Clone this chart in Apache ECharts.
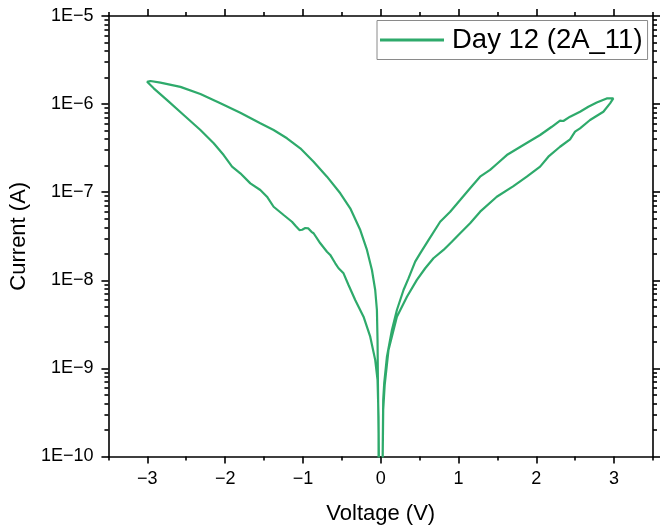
<!DOCTYPE html>
<html><head><meta charset="utf-8">
<script src="https://cdn.jsdelivr.net/npm/echarts@6/dist/echarts.min.js"></script>
<style>html,body{margin:0;padding:0;background:#fff}#c{width:670px;height:531px}</style>
</head><body><div id="c"></div>
<script>
// Positive sweep, rising branch (V, A)
const posUpV = [0.013, 0.032, 0.045, 0.080, 0.144, 0.208, 0.293, 0.357, 0.443, 0.507, 0.614, 0.764, 0.893, 1.021, 1.149, 1.277, 1.406, 1.492, 1.621, 1.834, 2.049, 2.199, 2.305, 2.348, 2.434, 2.562, 2.669, 2.777, 2.905, 2.990, 3.010];
const posUpI = [1e-11, 4.4e-10, 6.8e-10, 1.36e-9, 2.73e-9, 4.6e-9, 7.76e-9, 1.05e-8, 1.63e-8, 2.02e-8, 2.86e-8, 4.62e-8, 6.0e-8, 8.15e-8, 1.11e-7, 1.50e-7, 1.79e-7, 2.09e-7, 2.64e-7, 3.43e-7, 4.46e-7, 5.53e-7, 6.48e-7, 6.43e-7, 7.2e-7, 8.2e-7, 9.34e-7, 1.04e-6, 1.16e-6, 1.16e-6, 1.11e-6];
// Positive sweep, returning branch
const posDownV = [2.990, 2.948, 2.862, 2.691, 2.562, 2.498, 2.434, 2.305, 2.155, 2.049, 1.878, 1.706, 1.492, 1.278, 1.149, 1.021, 0.914, 0.807, 0.678, 0.572, 0.465, 0.337, 0.208, 0.100, 0.051, 0.032, 0.013];
const posDownI = [1.11e-6, 1.02e-6, 8.2e-7, 6.6e-7, 5.31e-7, 4.86e-7, 3.98e-7, 3.28e-7, 2.53e-7, 1.95e-7, 1.50e-7, 1.17e-7, 8.88e-8, 6.01e-8, 4.44e-8, 3.42e-8, 2.74e-8, 2.21e-8, 1.78e-8, 1.37e-8, 1.01e-8, 6.5e-9, 3.86e-9, 1.62e-9, 6.5e-10, 3.4e-10, 1e-11];
// Negative sweep, outgoing branch (lower)
const negOutV = [-0.015, -0.028, -0.041, -0.071, -0.135, -0.221, -0.328, -0.414, -0.478, -0.542, -0.584, -0.649, -0.691, -0.777, -0.863, -0.890, -0.930, -0.970, -1.010, -1.045, -1.090, -1.141, -1.248, -1.377, -1.462, -1.548, -1.676, -1.805, -1.911, -2.019, -2.147, -2.318, -2.533, -2.746, -2.918, -3.003];
const negOutI = [1e-11, 2.83e-10, 7.4e-10, 1.25e-9, 2.29e-9, 3.86e-9, 5.97e-9, 8.85e-9, 1.20e-8, 1.37e-8, 1.56e-8, 1.94e-8, 2.11e-8, 2.63e-8, 3.42e-8, 3.55e-8, 3.88e-8, 3.92e-8, 3.75e-8, 3.72e-8, 4.1e-8, 4.62e-8, 5.51e-8, 6.84e-8, 8.89e-8, 1.06e-7, 1.26e-7, 1.64e-7, 1.95e-7, 2.64e-7, 3.59e-7, 5.08e-7, 7.52e-7, 1.11e-6, 1.51e-6, 1.79e-6];
// Negative sweep, returning branch (upper)
const negBackV = [-2.960, -2.832, -2.575, -2.318, -2.061, -1.805, -1.548, -1.377, -1.205, -1.034, -0.863, -0.691, -0.520, -0.392, -0.263, -0.177, -0.113, -0.071, -0.049, -0.041, -0.036, -0.028, -0.026];
const negBackI = [1.83e-6, 1.75e-6, 1.57e-6, 1.30e-6, 1.02e-6, 7.97e-7, 6.05e-7, 5.08e-7, 4.09e-7, 3.15e-7, 2.22e-7, 1.50e-7, 9.72e-8, 6.56e-8, 3.72e-8, 2.21e-8, 1.31e-8, 7.76e-9, 4.60e-9, 2.10e-9, 6.8e-10, 1.85e-10, 1e-11];

const xMajorTicks = [-3, -2, -1, 0, 1, 2, 3];
const xMinorTicks = [-3.5, -2.5, -1.5, -0.5, 0.5, 1.5, 2.5, 3.5];
const yDecades = [-10, -9, -8, -7, -6];
const yMinorMantissas = [2, 3, 4, 5, 6, 7, 8, 9];
const seriesName = 'Day 12 (2A_11)';

function zip(v, i) { return v.map((x, k) => [x, i[k]]); }
const data = [].concat(zip(posUpV, posUpI), zip(posDownV, posDownI), zip(negOutV, negOutI), zip(negBackV, negBackI));
// minor tick positions in log10 space (axis decoration only)
const yMinorLog = [];
yDecades.forEach(d => yMinorMantissas.forEach(m => yMinorLog.push(d + Math.log10(m))));

const FONT = '"Liberation Sans", Arial, sans-serif';
const axisLine = { show: true, onZero: false, lineStyle: { color: '#000', width: 1.6 } };
const hiddenLine = { show: false, onZero: false };
const tickStyle = { color: '#000', width: 1.6 };
const minus = s => String(s).replace('-', '\u2212');

function xAx(pos, major, labels) {
  return {
    type: 'value', position: pos, min: -3.5, max: 3.5, gridIndex: 0,
    axisLine: major ? axisLine : hiddenLine,
    splitLine: { show: false },
    axisTick: { show: true, inside: false, length: major ? 7 : 4, lineStyle: tickStyle, customValues: major ? xMajorTicks : xMinorTicks },
    axisLabel: labels ? { show: true, customValues: xMajorTicks, formatter: v => minus(v), fontFamily: FONT, fontSize: 18, color: '#000', margin: 14 } : { show: false },
    name: labels ? 'Voltage (V)' : '', nameLocation: 'middle', nameGap: 46,
    nameTextStyle: { fontFamily: FONT, fontSize: 22, color: '#000' }
  };
}
function yAx(pos, labels) {
  return {
    type: 'log', logBase: 10, position: pos, min: 1e-10, max: 1e-5, gridIndex: 0,
    axisLine: axisLine, splitLine: { show: false },
    axisTick: { show: true, inside: false, length: 7, lineStyle: tickStyle },
    minorTick: { show: false },
    axisLabel: labels ? { show: true, formatter: v => '1E\u2212' + Math.round(-Math.log10(v)), fontFamily: FONT, fontSize: 18, color: '#000', margin: 15 } : { show: false },
    name: labels ? 'Current (A)' : '', nameLocation: 'middle', nameGap: 68, nameRotate: 90,
    nameTextStyle: { fontFamily: FONT, fontSize: 22, color: '#000' }
  };
}
function yMinorAx(pos) {
  return {
    type: 'value', position: pos, offset: 0, min: -10, max: -5, gridIndex: 0,
    axisLine: hiddenLine, splitLine: { show: false },
    axisTick: { show: true, inside: false, length: 4, lineStyle: tickStyle, customValues: yMinorLog },
    axisLabel: { show: false }
  };
}

const chart = echarts.init(document.getElementById('c'), null, { renderer: 'canvas' });
chart.setOption({
  animation: false,
  backgroundColor: '#fff',
  grid: { left: 108, top: 16, width: 545, height: 440.5, containLabel: false },
  xAxis: [xAx('bottom', true, true), xAx('bottom', false, false), xAx('top', true, false), xAx('top', false, false)],
  yAxis: [yAx('left', true), yAx('right', false), yMinorAx('left'), yMinorAx('right')],
  legend: {
    show: true, left: 377, top: 20.5, orient: 'horizontal',
    padding: [5.5, 5, 5.5, 3], itemWidth: 64, itemHeight: 14, itemGap: 5,
    borderColor: '#8a8a8a', borderWidth: 1, backgroundColor: '#fff',
    textStyle: { fontFamily: FONT, fontSize: 27.5, color: '#000', padding: [0, 0, 0, 3] },
    data: [{ name: seriesName, icon: 'path://M0,0 L64,0 L64,3 L0,3 Z' }]
  },
  series: [{
    name: seriesName, type: 'line', xAxisIndex: 0, yAxisIndex: 0,
    data: data, showSymbol: false, symbol: 'none', clip: true, smooth: false,
    lineStyle: { color: '#2eaa6b', width: 2.2 }, itemStyle: { color: '#2eaa6b' }
  }]
});
</script></body></html>
